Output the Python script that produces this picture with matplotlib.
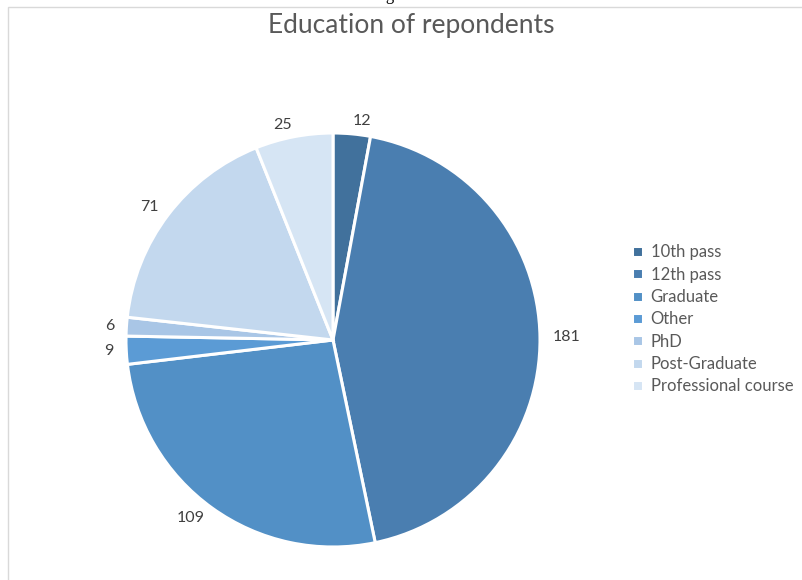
import numpy as np
import matplotlib
matplotlib.use('Agg')
import matplotlib.pyplot as plt
from matplotlib.patches import Rectangle

# Education levels of the survey respondents
categories = ['10th pass', '12th pass', 'Graduate', 'Other', 'PhD',
              'Post-Graduate', 'Professional course']
counts = [12, 181, 109, 9, 6, 71, 25]
colors = ['#41719c', '#4a7eb0', '#5290c6', '#5b9bd5', '#a9c6e6',
          '#c3d8ee', '#d6e5f4']

plt.rcParams['font.family'] = ['Lato', 'DejaVu Sans']

fig = plt.figure(figsize=(8.03, 5.8), dpi=100)

# light frame around the chart area
fig.patches.append(Rectangle((8 / 803, -0.05), 1.1, 1 - 7 / 580 + 0.05,
                             transform=fig.transFigure, fill=False,
                             edgecolor='#d9d9d9', linewidth=1))
# caption line above, cut off at the top edge
fig.text(372 / 803, 1 + 0.5 / 580, 'Figure 3', ha='left', va='baseline',
         fontsize=12, family='Liberation Serif', color='black')

fig.text(411 / 803, 1 - 26 / 580, 'Education of repondents', ha='center',
         va='center', fontsize=19, color='#595959')

# pie axes: center (333, 340) px, radius 207 px
R = 207
ax = fig.add_axes([(333 - R) / 803, (580 - 340 - R) / 580, 2 * R / 803, 2 * R / 580])
wedges, _ = ax.pie(counts, colors=colors, startangle=90, counterclock=False,
                   wedgeprops=dict(edgecolor='white', linewidth=2.2))
ax.set_xlim(-1, 1)
ax.set_ylim(-1, 1)
ax.set_aspect('auto')

# value labels just outside each slice, anchored on the side facing the pie
total = float(sum(counts))
cum = np.cumsum([0] + counts[:-1])
for c0, v in zip(cum, counts):
    mid = np.deg2rad(90 - (c0 + v / 2) / total * 360)
    x, y = 1.06 * np.cos(mid), 1.06 * np.sin(mid)
    ax.text(x, y, str(v), ha='left' if x > 0 else 'right', va='center',
            fontsize=11.5, color='#404040', clip_on=False)

leg = fig.legend(wedges, categories, loc='upper left',
                 bbox_to_anchor=(624 / 803, 1 - 236 / 580), frameon=False,
                 fontsize=12, handlelength=0.65, handleheight=0.65,
                 handletextpad=0.45, labelspacing=0.38, borderpad=0)
for t in leg.get_texts():
    t.set_color('#595959')

fig.savefig('out.png', dpi=100)
